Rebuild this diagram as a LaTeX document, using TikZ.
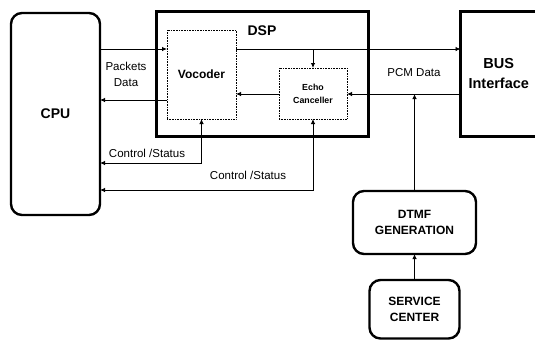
\documentclass[tikz,border=0pt]{standalone}
\usepackage{fontspec}
\setmainfont{Liberation Sans}
\usetikzlibrary{arrows.meta, positioning}

\begin{document}
\begin{tikzpicture}[
        x = 1pt, y = -1pt,
        blk/.style = {
            draw,
            line width = 2.4pt,
            rounded corners = 11pt,
            outer sep = 0pt,
            align = center,
            font = \bfseries\fontsize{12}{16}\selectfont
        },
        frame/.style = {
            draw,
            line width = 3pt,
            outer sep = 0pt,
            align = center,
            font = \bfseries\fontsize{14.5}{20}\selectfont
        },
        sub/.style = {
            draw,
            densely dotted,
            line width = 0.6pt,
            outer sep = 0pt,
            align = center
        },
        lbl/.style = {
            align = center,
            inner sep = 0pt,
            font = \fontsize{11.5}{16}\selectfont
        },
        sarr/.style = {
            -{Latex[length = 5pt, width = 4.5pt]},
            line width = 0.8pt
        },
        darr/.style = {
            {Latex[length = 5pt, width = 4.5pt]}-{Latex[length = 5pt, width = 4.5pt]},
            line width = 0.8pt
        },
        node distance = 26pt
    ]
        \clip (0,0) rectangle (535,341);

        \node[blk, minimum width = 89pt, minimum height = 202pt,
            font = \bfseries\fontsize{14}{16}\selectfont] (cpu) at (55.5,114) {CPU};

        \node[frame, minimum width = 212pt, minimum height = 125pt] (dsp) at (262.5,74) {};
        \node[font = \bfseries\fontsize{14}{16}\selectfont, inner sep = 0pt] (dsplbl) at (262,31) {DSP};

        \node[sub, minimum width = 69pt, minimum height = 89pt,
            font = \bfseries\fontsize{12}{14}\selectfont] (voc) at (201.5,74.5) {Vocoder};
        \node[sub, minimum width = 68pt, minimum height = 51pt,
            font = \bfseries\fontsize{8.8}{13}\selectfont] (echo) at (313,93.5) {Echo\\Canceller};

        \node[frame, minimum width = 76.5pt, minimum height = 125pt] (bus) at (498.75,74) {BUS\\Interface};

        \node[blk, minimum width = 123pt, minimum height = 63pt] (dtmf) at (414.5,222.5) {DTMF\\GENERATION};
        \node[blk, minimum width = 90pt, minimum height = 58.5pt, below = of dtmf] (svc) {SERVICE\\CENTER};

        \node[lbl] (pkt) at (126,74) {Packets\\Data};
        \node[lbl] (pcm) at (414,73) {PCM Data};
        \node[lbl] (cs1) at (147,153) {Control /Status};
        \node[lbl] (cs2) at (248,175) {Control /Status};

        \draw[sarr] (cpu.east |- 0,49) -- (voc.west |- 0,49);
        \draw[sarr] (voc.east |- 0,49) -- (bus.west |- 0,49);
        \draw[sarr] (echo.north |- 0,49) -- (echo.north);
        \draw[sarr] (voc.west |- 0,100) -- (cpu.east |- 0,100);
        \draw[sarr] (bus.west |- 0,94) -- (echo.east |- 0,94);
        \draw[sarr] (echo.west |- 0,94) -- (voc.east |- 0,94);
        \draw[sarr] (dtmf.north) -- (dtmf.north |- 0,94);
        \draw[sarr] (svc.north) -- (dtmf.south);
        \draw[darr] (voc.south) |- (cpu.east |- 0,163);
        \draw[darr] (echo.south) |- (cpu.east |- 0,190);
    \end{tikzpicture}
\end{document}
